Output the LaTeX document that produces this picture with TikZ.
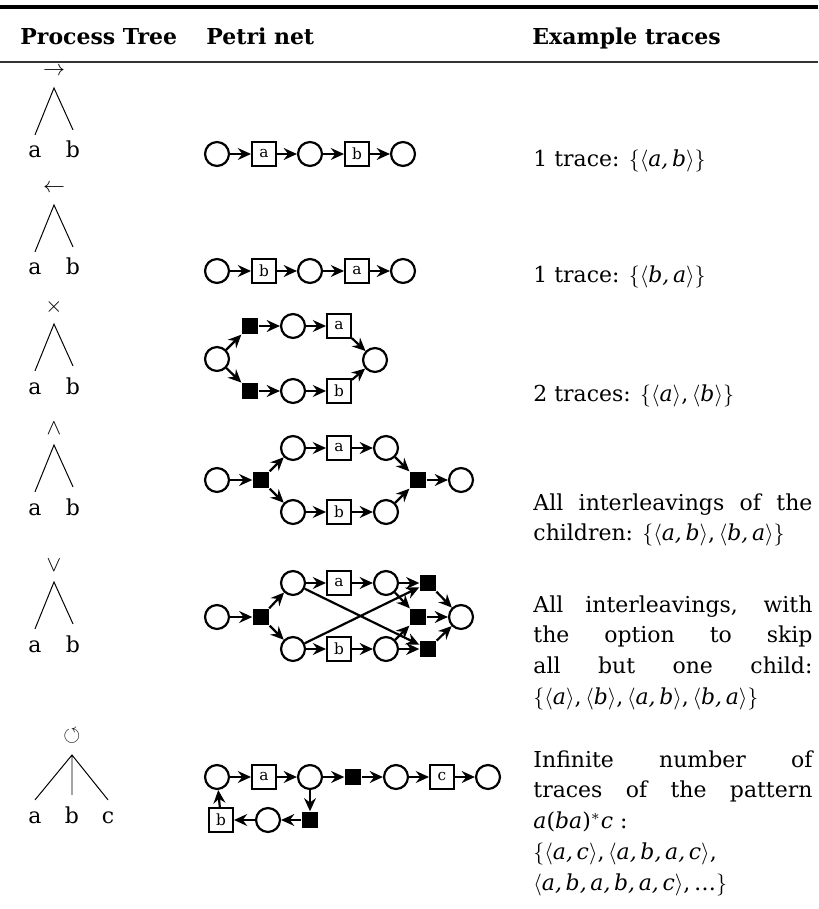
\documentclass[tikz,border=0pt]{standalone}
\usepackage{fontspec}
\usepackage{amssymb}
\setmainfont{DejaVu Serif}
\usetikzlibrary{arrows.meta}

% trace sequences
\newcommand{\seqn}[1]{$\langle$\textit{#1}$\rangle$}

\tikzset{
  place/.style={circle, draw, line width=1pt, minimum size=10.9pt, inner sep=0pt},
  trans/.style={rectangle, draw, line width=0.9pt, minimum size=10.9pt, inner sep=0pt,
    font=\fontsize{7}{8}\selectfont},
  silent/.style={rectangle, fill=black, minimum size=7.5pt, inner sep=0pt},
  arc/.style={draw, line width=1pt, -{Stealth[length=6pt,width=5.4pt,inset=2pt]}},
  leaf/.style={anchor=base, inner xsep=1pt, inner ysep=5pt},
  branch/.style={line width=0.45pt},
  trace/.style={anchor=base west, text width=127pt, align=justify, inner sep=0pt},
  head/.style={anchor=base west, inner sep=0pt, font=\bfseries},
}

\begin{document}
\begin{tikzpicture}[x=0.16mm, y=-0.16mm, font=\fontsize{10}{14}\selectfont]
  \useasboundingbox (0,0) rectangle (818,909);

  % table header
  \draw [line width=1.6pt] (0,7) -- (818,7);
  \node (h1) at (20,45)  [head] {Process Tree};
  \node (h2) at (206,45) [head] {Petri net};
  \node (h3) at (532,45) [head] {Example traces};
  \draw [line width=1pt, black!80] (0,62) -- (818,62);

  % process trees
  \node (op1) at (54,71) {$\rightarrow$};
  \coordinate (r1) at (54,88);
  \node (a1) at (35,158) [leaf] {a};
  \node (b1) at (73,158) [leaf] {b};
  \draw [branch] (a1.north) -- (r1) -- (b1.north);

  \node (op2) at (54,188) {$\leftarrow$};
  \coordinate (r2) at (54,205);
  \node (a2) at (35,275) [leaf] {a};
  \node (b2) at (73,275) [leaf] {b};
  \draw [branch] (a2.north) -- (r2) -- (b2.north);

  \node (op3) at (54,307) {$\times$};
  \coordinate (r3) at (54,324);
  \node (a3) at (35,394) [leaf] {a};
  \node (b3) at (73,394) [leaf] {b};
  \draw [branch] (a3.north) -- (r3) -- (b3.north);

  \node (op4) at (54,428) {$\wedge$};
  \coordinate (r4) at (54,445);
  \node (a4) at (35,515) [leaf] {a};
  \node (b4) at (73,515) [leaf] {b};
  \draw [branch] (a4.north) -- (r4) -- (b4.north);

  \node (op5) at (54,565) {$\vee$};
  \coordinate (r5) at (54,582);
  \node (a5) at (35,652) [leaf] {a};
  \node (b5) at (73,652) [leaf] {b};
  \draw [branch] (a5.north) -- (r5) -- (b5.north);

  \node (op6) at (72,736) {$\circlearrowleft$};
  \coordinate (r6) at (72,755);
  \node (a6) at (35,823)  [leaf] {a};
  \node (b6) at (72,823)  [leaf] {b};
  \node (c6) at (108,823) [leaf] {c};
  \draw [branch] (a6.north) -- (r6) -- (c6.north) (r6) -- (b6.north);

  % sequence a, b
  \node (p11) at (217,154) [place] {};
  \node (t1a) at (264,154) [trans] {a};
  \node (p12) at (310,154) [place] {};
  \node (t1b) at (357,154) [trans] {b};
  \node (p13) at (403,154) [place] {};
  \path [arc] (p11) edge (t1a) (t1a) edge (p12) (p12) edge (t1b) (t1b) edge (p13);

  % reversed sequence
  \node (p21) at (217,271) [place] {};
  \node (t2b) at (264,271) [trans] {b};
  \node (p22) at (310,271) [place] {};
  \node (t2a) at (357,271) [trans] {a};
  \node (p23) at (403,271) [place] {};
  \path [arc] (p21) edge (t2b) (t2b) edge (p22) (p22) edge (t2a) (t2a) edge (p23);

  % exclusive choice
  \node (p31) at (217,359) [place] {};
  \node (s31) at (250,326) [silent] {};
  \node (s32) at (250,391) [silent] {};
  \node (p32) at (293,326) [place] {};
  \node (p33) at (293,391) [place] {};
  \node (t3a) at (339,326) [trans] {a};
  \node (t3b) at (339,391) [trans] {b};
  \node (p34) at (375,360) [place] {};
  \path [arc]
    (p31) edge (s31) (p31) edge (s32)
    (s31) edge (p32) (s32) edge (p33)
    (p32) edge (t3a) (p33) edge (t3b)
    (t3a) edge (p34) (t3b) edge (p34);

  % parallel
  \node (p41) at (217,480) [place] {};
  \node (s41) at (261,480) [silent] {};
  \node (p42) at (293,448) [place] {};
  \node (p43) at (293,512) [place] {};
  \node (t4a) at (339,448) [trans] {a};
  \node (t4b) at (339,512) [trans] {b};
  \node (p44) at (386,448) [place] {};
  \node (p45) at (386,512) [place] {};
  \node (s42) at (418,480) [silent] {};
  \node (p46) at (461,480) [place] {};
  \path [arc]
    (p41) edge (s41)
    (s41) edge (p42) (s41) edge (p43)
    (p42) edge (t4a) (p43) edge (t4b)
    (t4a) edge (p44) (t4b) edge (p45)
    (p44) edge (s42) (p45) edge (s42)
    (s42) edge (p46);

  % or
  \node (p51) at (217,617) [place] {};
  \node (s51) at (261,617) [silent] {};
  \node (p52) at (293,583) [place] {};
  \node (p53) at (293,649) [place] {};
  \node (t5a) at (339,583) [trans] {a};
  \node (t5b) at (339,649) [trans] {b};
  \node (p54) at (386,583) [place] {};
  \node (p55) at (386,649) [place] {};
  \node (s52) at (428,583) [silent] {};
  \node (s53) at (418,617) [silent] {};
  \node (s54) at (428,649) [silent] {};
  \node (p56) at (461,617) [place] {};
  \path [arc]
    (p51) edge (s51)
    (s51) edge (p52) (s51) edge (p53)
    (p52) edge (t5a) (p53) edge (t5b)
    (t5a) edge (p54) (t5b) edge (p55)
    (p54) edge (s52) (p54) edge (s53)
    (p55) edge (s53) (p55) edge (s54)
    (p52) edge (s54) (p53) edge (s52)
    (s52) edge (p56) (s53) edge (p56) (s54) edge (p56);

  % loop
  \node (p61) at (217,777) [place] {};
  \node (t6a) at (264,777) [trans] {a};
  \node (p62) at (310,777) [place] {};
  \node (s61) at (353,777) [silent] {};
  \node (p63) at (396,777) [place] {};
  \node (t6c) at (442,777) [trans] {c};
  \node (p64) at (488,777) [place] {};
  \node (s62) at (310,820) [silent] {};
  \node (p65) at (268,820) [place] {};
  \node (t6b) at (221,820) [trans] {b};
  \path [arc]
    (p61) edge (t6a) (t6a) edge (p62) (p62) edge (s61)
    (s61) edge (p63) (p63) edge (t6c) (t6c) edge (p64)
    (p62) edge (s62) (s62) edge (p65) (p65) edge (t6b) (t6b) edge (p61);

  % traces
  \node (x1) at (533,167) [trace] {1 trace: $\{$\seqn{a,\,b}$\}$};
  \node (x2) at (533,283) [trace] {1 trace: $\{$\seqn{b,\,a}$\}$};
  \node (x3) at (533,402) [trace] {2 traces: $\{$\seqn{a},\,\seqn{b}$\}$};
  \node (x4) at (533,510) [trace]
    {All interleavings of the\linebreak
     children: $\{$\seqn{a,\,b},\,\seqn{b,\,a}$\}$};
  \node (x5) at (533,612) [trace]
    {All interleavings, with\linebreak the option to skip\linebreak
     all but one child:\linebreak
     $\{$\seqn{a},\,\seqn{b},\,\seqn{a,\,b},\,\seqn{b,\,a}$\}$};
  \node (x6) at (533,767) [trace]
    {Infinite number of\linebreak traces of the pattern\linebreak
     \textit{a}(\textit{ba})$^*$\textit{c} :\\
     $\{$\seqn{a,\,c},\,\seqn{a,\,b,\,a,\,c},\\
     \seqn{a,\,b,\,a,\,b,\,a,\,c},\,\ldots$\}$};
\end{tikzpicture}
\end{document}
